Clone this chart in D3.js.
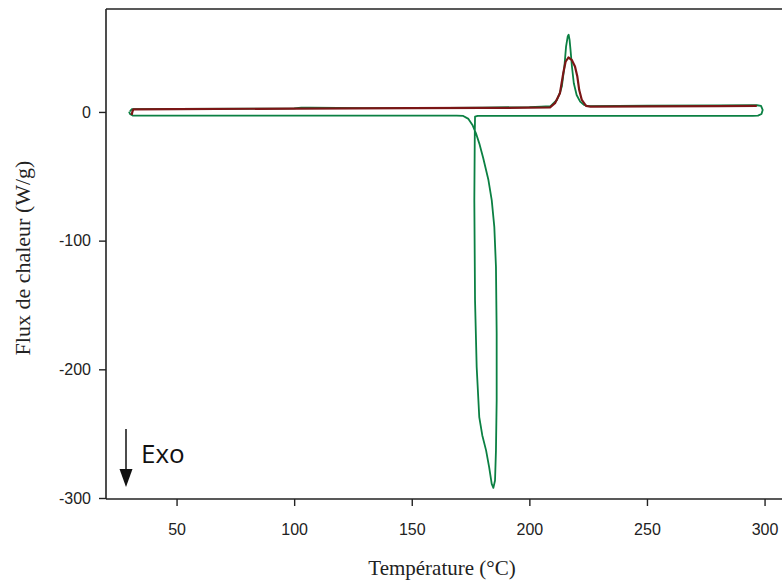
<!DOCTYPE html>
<html><head><meta charset="utf-8">
<script src="https://cdn.jsdelivr.net/npm/d3@7"></script>
<style>body{margin:0;background:#fff}svg{display:block}</style>
</head><body><svg id="c" width="782" height="582"></svg>
<script>
const xTicks = [50, 100, 150, 200, 250, 300];
const yTicks = [0, -100, -200, -300];

// Red curve: heating (Température °C, Flux W/g)
const heatTemp = [30.9, 31.2, 31.6, 50, 100, 150, 180, 200, 208.8, 210.9, 213, 214.4, 215.4, 216.6, 218, 219.4, 220.4, 221.2, 222.3, 224.1, 226, 250, 280, 296.7];
const heatFlux = [-2.3, 0, 2.0, 2.2, 2.6, 2.9, 3.1, 3.3, 3.6, 6.8, 14.5, 30, 39, 42.3, 40.5, 35.3, 27.5, 17, 9.3, 4.7, 4.2, 4.4, 4.6, 4.7];

// Green curve: heating + cooling cycle
const cycleTemp = [30.2, 31, 50, 100, 103, 107, 130, 150, 180, 200, 205, 209, 211.7, 213, 213.8, 214.9, 215.6, 216.3, 216.7, 217.1, 217.5, 218.1, 218.9, 220.1, 221.6, 223.3, 225, 250, 280, 296.8, 298.5, 299.2, 298.7, 297.2, 295,
  250, 200, 190, 178, 176.9, 176.8, 176.6, 176.9, 177.6, 178.7, 180.0, 181.6, 182.9, 184.0, 184.7, 185.4, 185.8, 186.1, 186.1, 185.8, 185.1, 184.0, 182.6, 180.4, 178.7, 177.3, 175.8, 174.1, 171.9, 169.1, 100, 50, 31.5, 30.2, 29.8];
const cycleFlux = [0.5, 2.2, 2.3, 2.7, 3.4, 3.4, 2.9, 3.0, 3.4, 3.8, 4.2, 4.5, 9.3, 15, 19.7, 35.3, 50.8, 58.6, 60, 56, 48.2, 35.3, 22.3, 13.2, 8, 5.4, 4.6, 4.9, 5.1, 5.2, 4.7, 1.6, -1.6, -2.9, -3.1,
  -3.1, -3.0, -3.0, -3.1, -3.7, -16.6, -68.5, -146.3, -198.2, -237.1, -251.4, -263, -276, -289, -292.1, -286.4, -263, -224.1, -172.2, -120.4, -89.3, -68.5, -52.9, -36.0, -24.4, -16.6, -10.1, -5.4, -3.1, -2.9, -2.9, -2.9, -2.9, -1.5, 0.3];

const W = 782, H = 582;
const mLeft = 106, mTop = 9, mBottom = 498;
const svg = d3.select("#c");
const x = d3.scaleLinear().domain([20, 310]).range([mLeft, mLeft + 290 * 2.352]);
const y = d3.scaleLinear().domain([-300, 80]).range([mBottom, mTop]);

const axisColor = "#222";
// frame
svg.append("line").attr("x1", mLeft).attr("x2", W + 10).attr("y1", mTop).attr("y2", mTop)
  .attr("stroke", axisColor).attr("stroke-width", 1.6);

const fmt = d => String(d);
const gx = svg.append("g").attr("transform", `translate(0,${mBottom + 1})`)
  .call(d3.axisBottom(x).tickValues(xTicks).tickFormat(fmt).tickSize(7).tickSizeOuter(0).tickPadding(18));
const gy = svg.append("g").attr("transform", `translate(${mLeft},0)`)
  .call(d3.axisLeft(y).tickValues(yTicks).tickFormat(fmt).tickSize(7).tickSizeOuter(0).tickPadding(8));
[gx, gy].forEach(g => {
  g.select(".domain").attr("stroke", axisColor).attr("stroke-width", 1.6);
  g.selectAll(".tick line").attr("stroke", axisColor).attr("stroke-width", 1.4);
  g.selectAll(".tick text").attr("fill", "#222").style("font-family", "'Liberation Sans', Arial, sans-serif").style("font-size", "16px");
});
gx.select(".domain").attr("d", `M${mLeft},0H${W + 10}`);
gy.select(".domain").attr("d", `M0,${mTop}V${mBottom + 1}`);

const line = d3.line().x(d => x(d[0])).y(d => y(d[1])).curve(d3.curveLinear);
const greenData = cycleTemp.map((t, i) => [t, cycleFlux[i]]);
const redData = heatTemp.map((t, i) => [t, heatFlux[i]]);

svg.append("path").datum(greenData).attr("d", line).attr("fill", "none")
  .attr("stroke", "#0b8043").attr("stroke-width", 1.8).attr("stroke-linejoin", "round");
svg.append("path").datum(redData).attr("d", line).attr("fill", "none")
  .attr("stroke", "#7b1616").attr("stroke-width", 2.2).attr("stroke-linejoin", "round");

// titles
svg.append("text").attr("x", 442).attr("y", 575).attr("text-anchor", "middle")
  .style("font-family", "'Liberation Serif', 'Times New Roman', serif").style("font-size", "21px").attr("fill", "#222")
  .text("Température (°C)");
svg.append("text").attr("transform", "translate(30,258) rotate(-90)").attr("text-anchor", "middle")
  .style("font-family", "'Liberation Serif', 'Times New Roman', serif").style("font-size", "22px").attr("fill", "#222")
  .text("Flux de chaleur (W/g)");

// Exo arrow
svg.append("line").attr("x1", 126).attr("x2", 126).attr("y1", 429).attr("y2", 472)
  .attr("stroke", "#111").attr("stroke-width", 1.5);
svg.append("path").attr("d", "M119.5,469 L132.5,469 L126,487 Z").attr("fill", "#111");
svg.append("text").attr("x", 141).attr("y", 463)
  .style("font-family", "'Open Sans', sans-serif").style("font-size", "26px").attr("fill", "#111")
  .text("Exo");
</script></body></html>
